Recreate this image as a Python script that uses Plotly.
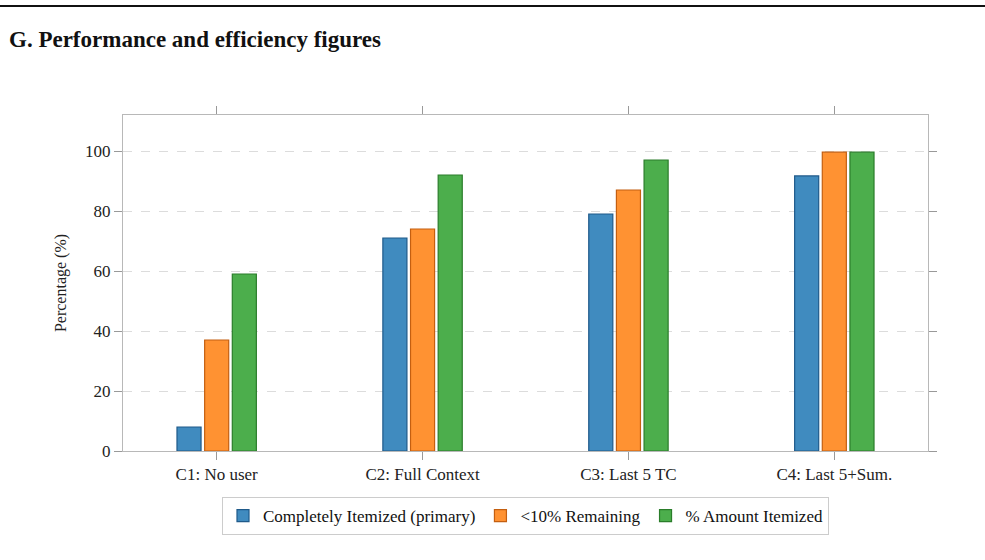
import plotly.graph_objects as go

categories = ["C1: No user", "C2: Full Context", "C3: Last 5 TC", "C4: Last 5+Sum."]
completely_itemized = [8, 71, 79, 91.7]
under10_remaining = [37, 74, 87, 99.6]
amount_itemized = [59, 92, 97, 99.6]
series_names = ["Completely Itemized (primary)", "<10% Remaining", "% Amount Itemized"]
y_ticks = [0, 20, 40, 60, 80, 100]

fills = ["#408bbf", "#ff9232", "#4cae4c"]
edges = ["#1f5a8a", "#c45f10", "#2a7d2a"]

fig = go.Figure()
for name, vals, fc, ec in zip(series_names,
                              [completely_itemized, under10_remaining, amount_itemized],
                              fills, edges):
    fig.add_trace(go.Bar(x=categories, y=vals, name=name,
                         marker=dict(color=fc, line=dict(color=ec, width=1.2))))

serif = "Liberation Serif"
L, R, T, B = 123, 57, 115, 109
W, H = 985, 560
pw, ph = W - L - R, H - T - B

fig.update_layout(
    width=W, height=H,
    margin=dict(l=L, r=R, t=T, b=B),
    paper_bgcolor="white", plot_bgcolor="white",
    barmode="group", bargap=0.597, bargroupgap=0.13,
    font=dict(family=serif, size=17, color="#222"),
    showlegend=True,
    legend=dict(orientation="h", x=0.5, xanchor="center", y=(0 - 46) / ph, yanchor="top",
                bordercolor="#cccccc", borderwidth=1, font=dict(family=serif, size=17, color="#111"),
                itemwidth=30, traceorder="normal"),
    xaxis=dict(range=[-0.455, 3.455], showline=True, linecolor="#b8b8b8", linewidth=1,
               mirror="allticks", ticks="outside", ticklen=8, tickcolor="#999",
               showgrid=False, tickfont=dict(family=serif, size=17, color="#222")),
    yaxis=dict(range=[0, 112], tickvals=y_ticks, showline=True, linecolor="#b8b8b8", linewidth=1,
               mirror="allticks", ticks="outside", ticklen=8, tickcolor="#999",
               showgrid=True, gridcolor="#dcdcdc", griddash="dash", gridwidth=1,
               zeroline=False,
               title=dict(text="Percentage (%)", font=dict(family=serif, size=16, color="#222"), standoff=14),
               tickfont=dict(family=serif, size=17, color="#222")),
)

# top rule across the page
fig.add_shape(type="line", xref="paper", yref="paper",
              x0=-L / pw, x1=(W - L) / pw, y0=(H - B - 6) / ph, y1=(H - B - 6) / ph,
              line=dict(color="#111", width=2.2))

fig.add_annotation(text="<b>G. Performance and efficiency figures</b>", xref="paper", yref="paper",
                   x=(7 - L) / pw, y=(H - B - 40) / ph, xanchor="left", yanchor="middle",
                   showarrow=False, font=dict(family=serif, size=23, color="#111"))

fig.write_html("out.html")
